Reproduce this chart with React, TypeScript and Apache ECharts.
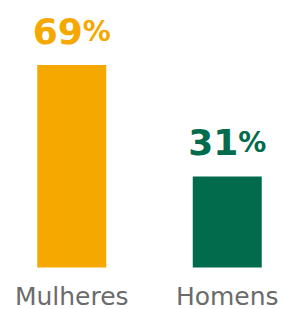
import React, { useEffect, useRef } from "react";
import * as echarts from "echarts";

const categories = ["Mulheres", "Homens"];
const values = [69, 31];
const colors = ["#F5A800", "#016B4C"];

export default function App() {
  const ref = useRef<HTMLDivElement>(null);
  useEffect(() => {
    const chart = echarts.init(ref.current!, null, { renderer: "svg" });
    chart.setOption({
      animation: false,
      grid: { left: 0, right: 0, top: 65, bottom: 41, containLabel: false },
      xAxis: {
        type: "category",
        data: categories,
        axisLine: { show: false },
        axisTick: { show: false },
        axisLabel: {
          color: "#6b6b6b",
          fontFamily: "DejaVu Sans",
          fontSize: 25,
          lineHeight: 20,
          margin: 19,
        },
      },
      yAxis: { type: "value", min: 0, max: 69, show: false, splitLine: { show: false } },
      series: [
        {
          type: "bar",
          barWidth: 69,
          data: values.map((v, i) => ({
            value: v,
            itemStyle: { color: colors[i] },
            label: {
              show: true,
              position: "top",
              distance: 16,
              formatter: (p: any) => `{n|${p.value}}{p|%}`,
              rich: {
                n: { fontFamily: "DejaVu Sans", fontWeight: "bold", fontSize: 36, color: colors[i] },
                p: { fontFamily: "DejaVu Sans", fontWeight: "bold", fontSize: 28, color: colors[i] },
              },
            },
          })),
        },
      ],
    });
    return () => chart.dispose();
  }, []);
  return <div ref={ref} style={{ position: "absolute", left: -6, top: 0, width: 311, height: 309 }} />;
}
